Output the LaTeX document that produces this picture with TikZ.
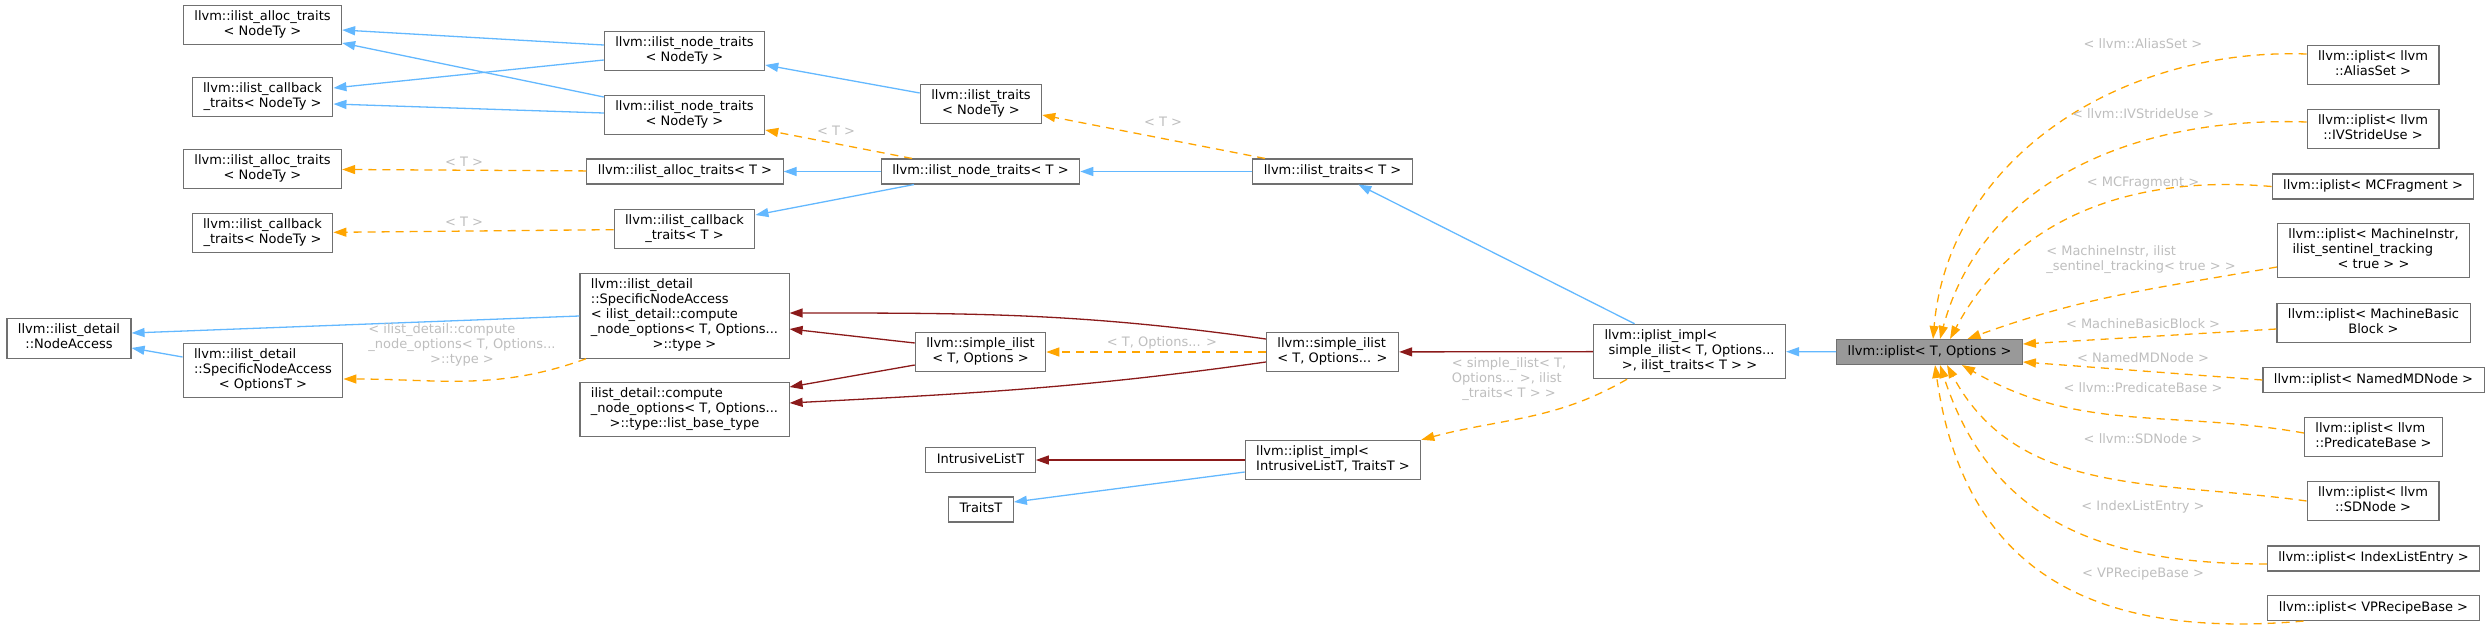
\documentclass[tikz,border=0pt]{standalone}
\usepackage{fontspec}
\setmainfont{DejaVu Sans}
\usetikzlibrary{arrows.meta,positioning}
\definecolor{inhblue}{HTML}{63B8FF}
\definecolor{privred}{HTML}{8B1A1A}
\definecolor{tplorange}{HTML}{FFA500}
\definecolor{edgegrey}{HTML}{BEBEBE}
\definecolor{boxgrey}{HTML}{707070}
\definecolor{selgrey}{HTML}{999999}
\newcommand{\midln}[1]{\hfill#1\hfill\null}

\begin{document}
\begin{tikzpicture}[x=1pt,y=-1pt,
		every node/.style={font=\fontsize{13}{15}\selectfont},
		cls/.style={draw=boxgrey,fill=white,line width=1.1pt,align=left,
			inner xsep=11pt,inner ysep=5pt,
			execute at begin node=\strut,execute at end node=\strut},
		sel/.style={cls,fill=selgrey},
		lbl/.style={text=edgegrey,align=left,inner sep=0pt},
		pub/.style={draw=inhblue,line width=1.3pt,-{Triangle[length=13pt,width=9pt]}},
		priv/.style={pub,draw=privred},
		tmpl/.style={pub,draw=tplorange,dash pattern=on 8pt off 6pt}
		]
		\useasboundingbox (0,0) rectangle (2491,632);
		
		% left column
		\node[cls] (allocTop) at (262.5,25) {llvm::ilist\_alloc\_traits\\\midln{< NodeTy >}};
		\node[cls] (cbTop) at (262.5,97) {llvm::ilist\_callback\\\midln{\_traits< NodeTy >}};
		\node[cls] (allocMid) at (262.5,169) {llvm::ilist\_alloc\_traits\\\midln{< NodeTy >}};
		\node[cls] (cbMid) at (262.5,233) {llvm::ilist\_callback\\\midln{\_traits< NodeTy >}};
		\node[cls] (nodeAccess) at (69,338.5) {llvm::ilist\_detail\\\midln{::NodeAccess}};
		\node[cls] (specOpt) at (263,370.5) {llvm::ilist\_detail\\::SpecificNodeAccess\\\midln{< OptionsT >}};
		
		% second column
		\node[cls] (nodeTrA) at (684.5,51) {llvm::ilist\_node\_traits\\\midln{< NodeTy >}};
		\node[cls] (nodeTrB) at (684.5,115) {llvm::ilist\_node\_traits\\\midln{< NodeTy >}};
		\node[cls] (allocT) at (685,171.5) {llvm::ilist\_alloc\_traits< T >};
		\node[cls] (cbT) at (684.5,229) {llvm::ilist\_callback\\\midln{\_traits< T >}};
		\node[cls] (specAccess) at (684.5,316) {llvm::ilist\_detail\\::SpecificNodeAccess\\< ilist\_detail::compute\\\_node\_options< T, Options...\\\midln{>::type >}};
		\node[cls] (listBase) at (684.5,409.5) {ilist\_detail::compute\\\_node\_options< T, Options...\\\midln{>::type::list\_base\_type}};
		
		% middle
		\node[cls] (traitsNodeTy) at (981,104) {llvm::ilist\_traits\\\midln{< NodeTy >}};
		\node[cls] (nodeTrT) at (980.5,171.5) {llvm::ilist\_node\_traits< T >};
		\node[cls] (simpleT) at (980.5,352) {llvm::simple\_ilist\\\midln{< T, Options >}};
		\node[cls] (intrusive) at (980.5,460) {IntrusiveListT};
		\node[cls] (traitsTT) at (981,509.5) {TraitsT};
		\node[cls] (traitsT) at (1332.5,171.5) {llvm::ilist\_traits< T >};
		\node[cls] (simpleOpts) at (1332.5,352) {llvm::simple\_ilist\\\midln{< T, Options... >}};
		\node[cls] (implIT) at (1333,460) {llvm::iplist\_impl<\\\midln{IntrusiveListT, TraitsT >}};
		\node[cls] (iplistImpl) at (1689.5,351.5) {llvm::iplist\_impl<\\\ simple\_ilist< T, Options...\\\midln{>, ilist\_traits< T > >}};
		\node[sel] (iplist) at (1929.5,352) {llvm::iplist< T, Options >};
		
		% instantiations
		\node[cls] (aliasSet) at (2373,65) {llvm::iplist< llvm\\\midln{::AliasSet >}};
		\node[cls] (ivStride) at (2373,129) {llvm::iplist< llvm\\\midln{::IVStrideUse >}};
		\node[cls] (mcFrag) at (2373,186.5) {llvm::iplist< MCFragment >};
		\node[cls] (machInstr) at (2373.5,250.5) {llvm::iplist< MachineInstr,\\\ ilist\_sentinel\_tracking\\\midln{< true > >}};
		\node[cls] (mbb) at (2373.5,323) {llvm::iplist< MachineBasic\\\midln{Block >}};
		\node[cls] (namedMD) at (2373.5,380) {llvm::iplist< NamedMDNode >};
		\node[cls] (predBase) at (2373.5,437) {llvm::iplist< llvm\\\midln{::PredicateBase >}};
		\node[cls] (sdNode) at (2373,501) {llvm::iplist< llvm\\\midln{::SDNode >}};
		\node[cls] (indexList) at (2373.5,558.5) {llvm::iplist< IndexListEntry >};
		\node[cls] (vpRecipe) at (2373.5,608) {llvm::iplist< VPRecipeBase >};
		
		% public inheritance
		\draw[pub] ([yshift=6pt]nodeTrA.west) -- ([yshift=-5pt]allocTop.east);
		\draw[pub] ([yshift=18pt]nodeTrB.west) -- ([yshift=-18pt]allocTop.east);
		\draw[pub] ([yshift=-9pt]nodeTrA.west) -- ([yshift=9pt]cbTop.east);
		\draw[pub] ([yshift=2pt]nodeTrB.west) -- ([yshift=-7pt]cbTop.east);
		\draw[pub] ([yshift=11pt]traitsNodeTy.west) -- ([yshift=-14pt]nodeTrA.east);
		\draw[pub] (nodeTrT) -- (allocT);
		\draw[pub] ([xshift=-66.5pt]nodeTrT.south) -- ([yshift=14pt]cbT.east);
		\draw[pub] (traitsT) -- (nodeTrT);
		\draw[pub] (iplistImpl) -- (traitsT);
		\draw[pub] (iplist) -- (iplistImpl);
		\draw[pub] (specAccess.west) -- ([yshift=5.5pt]nodeAccess.east);
		\draw[pub] ([yshift=13.5pt]specOpt.west) -- ([yshift=-9.5pt]nodeAccess.east);
		\draw[pub] ([yshift=-12pt]implIT.west) -- ([yshift=7.5pt]traitsTT.east);
		
		% private inheritance
		\draw[priv] ([yshift=9pt]simpleT.west) -- ([yshift=-13pt]specAccess.east);
		\draw[priv] ([yshift=-13pt]simpleT.west) -- ([yshift=22.5pt]listBase.east);
		\draw[priv] ([yshift=13pt]simpleOpts.west) to[out=172,in=0] ([yshift=3pt]specAccess.east);
		\draw[priv] ([yshift=-10pt]simpleOpts.west) to[out=188,in=3] ([yshift=6.5pt]listBase.east);
		\draw[priv] (iplistImpl) -- (simpleOpts);
		\draw[priv] (implIT) -- (intrusive);
		
		% template instances
		\draw[tmpl] (allocT) -- (allocMid);
		\draw[tmpl] (cbT) -- (cbMid);
		\draw[tmpl] ([xshift=-68.5pt]nodeTrT.north) -- ([yshift=-15pt]nodeTrB.east);
		\draw[tmpl] ([xshift=-67.5pt]traitsT.north) -- ([yshift=-11pt]traitsNodeTy.east);
		\draw[tmpl] ([xshift=-98.5pt]specAccess.south) to[out=200,in=0] ([yshift=-8.5pt]specOpt.east);
		\draw[tmpl] (simpleOpts) -- (simpleT);
		\draw[tmpl] ([xshift=-62.5pt]iplistImpl.south) to[out=210,in=15] (implIT.north east);
		
		\draw[tmpl] ([yshift=11pt]aliasSet.west) to[out=178,in=85] ([xshift=3.5pt]iplist.north);
		\draw[tmpl] ([yshift=7pt]ivStride.west) to[out=178,in=75] ([xshift=10.5pt]iplist.north);
		\draw[tmpl] (mcFrag.west) to[out=175,in=62] ([xshift=20.5pt]iplist.north);
		\draw[tmpl] ([yshift=-16.5pt]machInstr.west) to[out=190,in=20] ([xshift=38pt]iplist.north);
		\draw[tmpl] ([yshift=-6pt]mbb.west) -- ([yshift=8pt]iplist.east);
		\draw[tmpl] (namedMD.west) -- ([yshift=-10pt]iplist.east);
		\draw[tmpl] ([yshift=4pt]predBase.west) to[out=170,in=-30] ([xshift=32.5pt]iplist.south);
		\draw[tmpl] (sdNode.west) to[out=172,in=-62] ([xshift=17.5pt]iplist.south);
		\draw[tmpl] ([yshift=-5.5pt]indexList.west) to[out=180,in=-72,looseness=1.1] ([xshift=10.5pt]iplist.south);
		\draw[tmpl] ([xshift=-70pt]vpRecipe.south) to[out=185,in=-82,looseness=1.2] ([xshift=5.5pt]iplist.south);
		
		% edge labels
		\node[lbl] (lbAllocT) at (464,162) {< T >};
		\node[lbl] (lbCbT) at (464,222) {< T >};
		\node[lbl] (lbNodeT) at (836,131) {< T >};
		\node[lbl] (lbTraitsT) at (1163,122) {< T >};
		\node[lbl] (lbSpec) at (462,345) {< ilist\_detail::compute\\\_node\_options< T, Options...\\\midln{>::type >}};
		\node[lbl] (lbSimple) at (1162,343) {< T, Options... >};
		\node[lbl] (lbImpl) at (1509,379) {< simple\_ilist< T,\\Options... >, ilist\\\midln{\_traits< T > >}};
		\node[lbl] (lbAlias) at (2143,44) {< llvm::AliasSet >};
		\node[lbl] (lbStride) at (2143,114) {< llvm::IVStrideUse >};
		\node[lbl] (lbFrag) at (2143,183) {< MCFragment >};
		\node[lbl] (lbInstr) at (2141,259.5) {< MachineInstr, ilist\\\midln{\_sentinel\_tracking< true > >}};
		\node[lbl] (lbBlock) at (2143,324) {< MachineBasicBlock >};
		\node[lbl] (lbNamed) at (2143,358) {< NamedMDNode >};
		\node[lbl] (lbPred) at (2143,388) {< llvm::PredicateBase >};
		\node[lbl] (lbSD) at (2143,439) {< llvm::SDNode >};
		\node[lbl] (lbIndex) at (2143,507) {< IndexListEntry >};
		\node[lbl] (lbRecipe) at (2143,574) {< VPRecipeBase >};
		
	\end{tikzpicture}
\end{document}
